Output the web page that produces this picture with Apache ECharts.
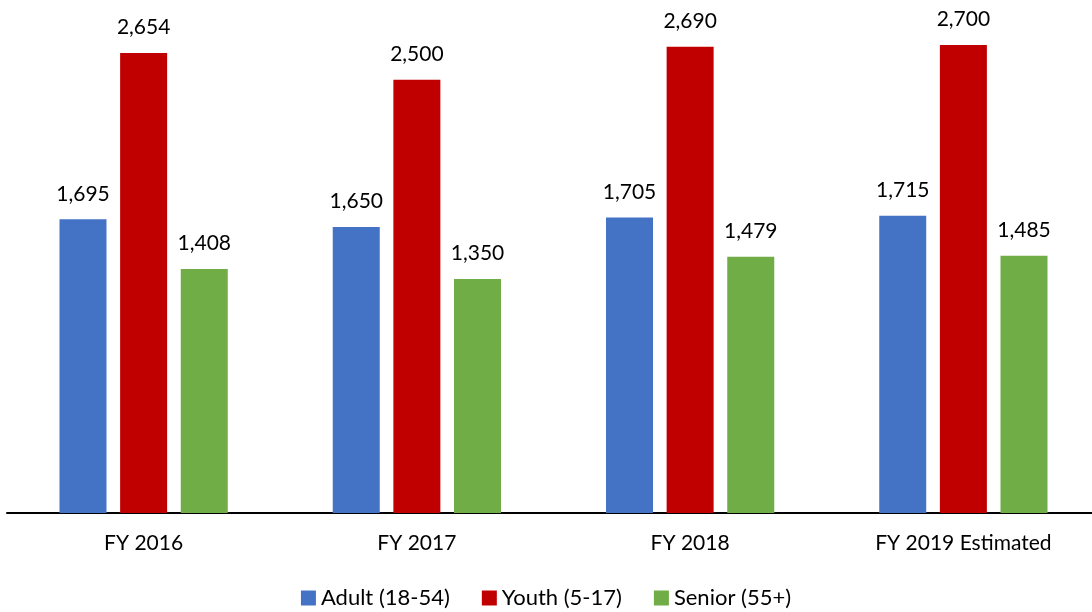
<!DOCTYPE html>
<html>
<head>
<meta charset="utf-8">
<script src="https://cdn.jsdelivr.net/npm/echarts@6/dist/echarts.min.js"></script>
<style>
  html, body { margin: 0; padding: 0; background: #fff; }
  #chart { width: 1092px; height: 612px; }
</style>
</head>
<body>
<div id="chart"></div>
<script>
// categories and series values
const categories = ['FY 2016', 'FY 2017', 'FY 2018', 'FY 2019 Estimated']
const adult = [1695, 1650, 1705, 1715]
const youth = [2654, 2500, 2690, 2700]
const senior = [1408, 1350, 1479, 1485]

const font = 'Lato, "Open Sans", sans-serif'

const chart = echarts.init(document.getElementById('chart'))

const label = {
  show: true,
  position: 'top',
  distance: 15,
  color: '#000',
  fontSize: 21,
  fontFamily: font,
  formatter: (p) => p.value.toLocaleString('en-US')
}

function bar(name, data, color) {
  return {
    name,
    type: 'bar',
    data,
    barWidth: 47,
    barGap: '29%',
    itemStyle: { color },
    label
  }
}

chart.setOption({
  animation: false,
  color: ['#4472c4', '#c00000', '#70ad47'],
  legend: {
    bottom: -2,
    left: 'center',
    itemWidth: 15,
    itemHeight: 15,
    itemGap: 32,
    icon: 'rect',
    textStyle: { fontSize: 22, fontFamily: font, color: '#000' },
    data: ['Adult (18-54)', 'Youth (5-17)', 'Senior (55+)']
  },
  grid: {
    left: 7,
    top: 0,
    width: 1093,
    height: 513,
    outerBoundsMode: 'none'
  },
  xAxis: {
    type: 'category',
    data: categories,
    axisTick: { show: false },
    axisLine: { lineStyle: { color: '#000', width: 2 } },
    axisLabel: { margin: 20, fontSize: 21, fontFamily: font, color: '#000' }
  },
  yAxis: {
    type: 'value',
    min: 0,
    max: 2960,
    show: false,
    splitLine: { show: false }
  },
  series: [
    bar('Adult (18-54)', adult, '#4472c4'),
    bar('Youth (5-17)', youth, '#c00000'),
    bar('Senior (55+)', senior, '#70ad47')
  ]
})
</script>
</body>
</html>
